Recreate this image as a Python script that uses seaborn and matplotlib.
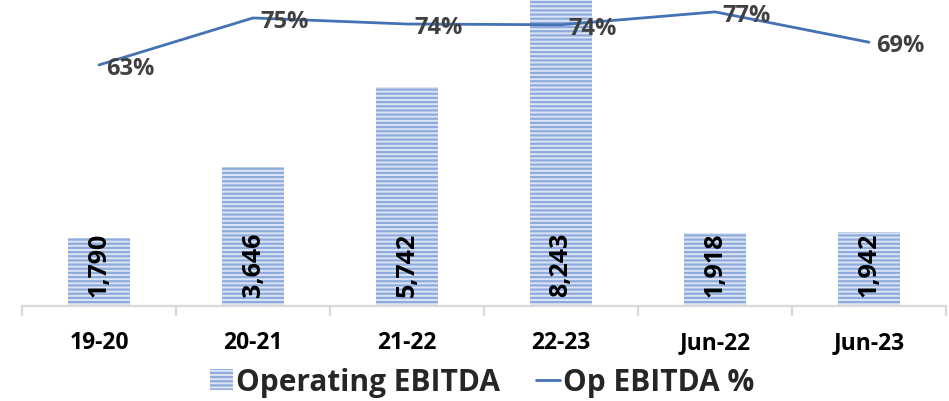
import matplotlib
matplotlib.use("Agg")
import matplotlib.pyplot as plt
import seaborn as sns
import numpy as np
import pandas as pd
from matplotlib.patches import Patch
from matplotlib.lines import Line2D

categories = ["19-20", "20-21", "21-22", "22-23", "Jun-22", "Jun-23"]
ebitda = [1790, 3646, 5742, 8243, 1918, 1942]
ebitda_pct = [63.0, 75.4, 73.8, 73.6, 77.0, 69.0]
pct_labels = ["63%", "75%", "74%", "74%", "77%", "69%"]

sns.set_theme(style="white")
plt.rcParams["font.family"] = ["Open Sans", "DejaVu Sans"]
plt.rcParams["hatch.linewidth"] = 1.6

bar_face = "#DCE5F4"
hatch_col = "#8FAADC"
line_col = "#4472B4"
axis_col = "#D9D9D9"

fig = plt.figure(figsize=(9.49, 4.02), dpi=100)
ax = fig.add_axes([22/949, 95/402, 924/949, 307/402])

df = pd.DataFrame({"cat": categories, "val": ebitda})
sns.barplot(data=df, x="cat", y="val", order=categories, color=bar_face,
            width=0.4, ax=ax, saturation=1, hatch="----", edgecolor=hatch_col,
            linewidth=0)
for p in ax.patches:
    p.set_facecolor(bar_face)
    p.set_edgecolor(hatch_col)
    p.set_hatch("----")
    p.set_linewidth(0)

ax.set_xlim(-0.5, len(categories) - 0.5)
ax.set_ylim(0, 8037)
ax.set_xlabel("")
ax.set_ylabel("")
ax.set_yticks([])
for s in ["top", "left", "right"]:
    ax.spines[s].set_visible(False)
ax.spines["bottom"].set_color(axis_col)
ax.spines["bottom"].set_linewidth(1.6)
ax.set_xticks(range(len(categories)))
ax.set_xticklabels(categories, fontsize=16.5, fontweight="bold", color="black")
ax.set_xticks(np.arange(-0.5, len(categories), 1.0), minor=True)
ax.tick_params(axis="x", which="major", length=0, pad=17)
ax.tick_params(axis="x", which="minor", length=7, width=1.6, color=axis_col,
               direction="out", bottom=True)

for i, v in enumerate(ebitda):
    ax.text(i, 1100, f"{v:,}", rotation=90, ha="center", va="center",
            fontsize=18, fontweight="bold", color="black")

ax2 = ax.twinx()
sns.lineplot(x=list(range(len(categories))), y=ebitda_pct, ax=ax2,
             color=line_col, linewidth=2)
ax2.set_ylim(-0.6, 80.4)
ax2.set_yticks([])
ax2.set_ylabel("")
for s in ["top", "left", "right", "bottom"]:
    ax2.spines[s].set_visible(False)
for i, (v, lab) in enumerate(zip(ebitda_pct, pct_labels)):
    ax2.annotate(lab, (i, v), xytext=(5, -2), textcoords="offset points",
                 ha="left", va="center", fontsize=17, fontweight="bold",
                 color="#404040")

handles = [Patch(facecolor=bar_face, edgecolor=hatch_col, hatch="----", linewidth=0),
           Line2D([0], [0], color=line_col, linewidth=2)]
fig.legend(handles, ["Operating EBITDA", "Op EBITDA %"], loc="center",
           bbox_to_anchor=(482/949, 1 - 383/402), ncol=2, frameon=False,
           prop={"size": 21.5, "weight": "bold"}, handlelength=0.8,
           handleheight=0.7, handletextpad=0.1, columnspacing=1.2,
           borderpad=0)

fig.savefig("out.png", dpi=100)
